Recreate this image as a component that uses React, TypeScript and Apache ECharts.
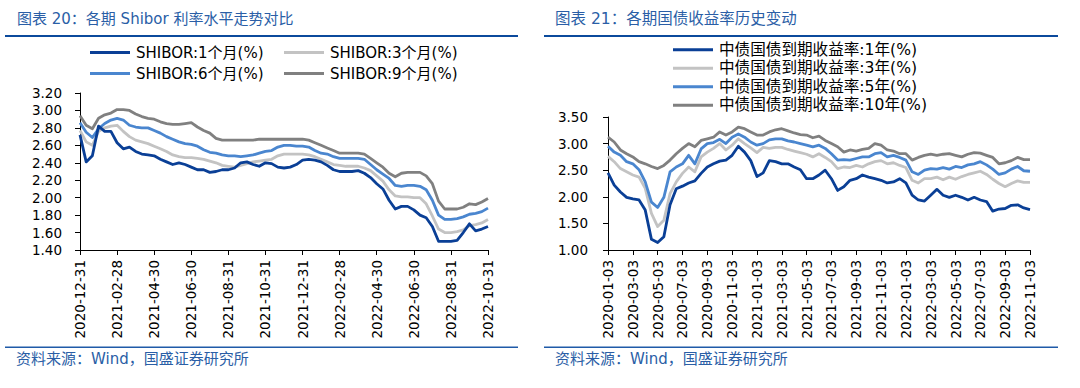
import React, { useEffect, useRef } from "react";
import * as echarts from "echarts";

// ---------- data ----------
const leftTicks = [
  "2020-12-31", "2021-02-28", "2021-04-30", "2021-06-30", "2021-08-31", "2021-10-31",
  "2021-12-31", "2022-02-28", "2022-04-30", "2022-06-30", "2022-08-31", "2022-10-31",
];
const LEFT_STEP = 6; // points between two labelled ticks

const shibor1M = [
  2.72, 2.41, 2.48, 2.82, 2.76, 2.76, 2.63, 2.56, 2.58, 2.53, 2.50, 2.49, 2.48, 2.44, 2.41, 2.38, 2.40,
  2.38, 2.35, 2.32, 2.32, 2.29, 2.30, 2.32, 2.32, 2.34, 2.40, 2.41, 2.38, 2.36, 2.40, 2.39, 2.35, 2.34,
  2.35, 2.38, 2.43, 2.44, 2.43, 2.41, 2.37, 2.32, 2.30, 2.30, 2.30, 2.31, 2.28, 2.23, 2.16, 2.10, 1.97,
  1.87, 1.90, 1.90, 1.86, 1.80, 1.77, 1.67, 1.50, 1.50, 1.50, 1.51, 1.60, 1.70, 1.62, 1.64, 1.67,
];
const shibor3M = [
  2.77, 2.64, 2.60, 2.76, 2.80, 2.82, 2.83, 2.76, 2.70, 2.66, 2.64, 2.62, 2.59, 2.56, 2.53, 2.49, 2.47,
  2.46, 2.46, 2.45, 2.44, 2.42, 2.40, 2.37, 2.36, 2.35, 2.37, 2.39, 2.41, 2.42, 2.43, 2.44, 2.48, 2.50,
  2.50, 2.50, 2.50, 2.49, 2.47, 2.44, 2.41, 2.38, 2.37, 2.36, 2.36, 2.36, 2.34, 2.31, 2.25, 2.19, 2.09,
  2.02, 2.01, 2.01, 2.00, 2.00, 1.93, 1.79, 1.64, 1.60, 1.60, 1.61, 1.63, 1.68, 1.69, 1.71, 1.75,
];
const shibor6M = [
  2.86, 2.75, 2.69, 2.79, 2.85, 2.89, 2.91, 2.89, 2.83, 2.81, 2.80, 2.80, 2.77, 2.74, 2.70, 2.67, 2.64,
  2.62, 2.61, 2.59, 2.55, 2.52, 2.51, 2.49, 2.48, 2.48, 2.47, 2.48, 2.49, 2.51, 2.53, 2.54, 2.58, 2.60,
  2.60, 2.59, 2.59, 2.58, 2.54, 2.51, 2.50, 2.47, 2.45, 2.45, 2.45, 2.45, 2.44, 2.38, 2.32, 2.27, 2.22,
  2.14, 2.13, 2.14, 2.14, 2.13, 2.09, 1.97, 1.80, 1.75, 1.75, 1.76, 1.78, 1.81, 1.82, 1.84, 1.88,
];
const shibor9M = [
  2.94, 2.83, 2.79, 2.91, 2.95, 2.97, 3.01, 3.01, 3.00, 2.96, 2.93, 2.91, 2.90, 2.87, 2.85, 2.84, 2.84,
  2.85, 2.86, 2.81, 2.77, 2.74, 2.68, 2.66, 2.66, 2.66, 2.66, 2.66, 2.66, 2.67, 2.67, 2.67, 2.67, 2.67,
  2.67, 2.67, 2.67, 2.66, 2.63, 2.60, 2.57, 2.54, 2.51, 2.51, 2.51, 2.51, 2.50, 2.45, 2.40, 2.35, 2.28,
  2.24, 2.28, 2.29, 2.29, 2.29, 2.25, 2.16, 1.96, 1.87, 1.87, 1.87, 1.89, 1.93, 1.92, 1.95, 1.99,
];

const rightTicks = [
  "2020-01-03", "2020-03-03", "2020-05-03", "2020-07-03", "2020-09-03", "2020-11-03",
  "2021-01-03", "2021-03-03", "2021-05-03", "2021-07-03", "2021-09-03", "2021-11-03",
  "2022-01-03", "2022-03-03", "2022-05-03", "2022-07-03", "2022-09-03", "2022-11-03",
];
const RIGHT_STEP = 4;

const bond1Y = [
  2.45, 2.22, 2.09, 1.99, 1.96, 1.94, 1.75, 1.20, 1.14, 1.25, 1.85, 2.15, 2.20, 2.26, 2.30, 2.44, 2.56,
  2.62, 2.67, 2.69, 2.78, 2.95, 2.84, 2.68, 2.38, 2.45, 2.68, 2.66, 2.62, 2.62, 2.56, 2.51, 2.34, 2.34,
  2.41, 2.50, 2.34, 2.12, 2.19, 2.31, 2.34, 2.41, 2.37, 2.34, 2.31, 2.26, 2.28, 2.34, 2.26, 2.03, 1.94,
  1.92, 2.03, 2.14, 2.03, 1.99, 2.03, 1.99, 1.94, 1.99, 1.94, 1.91, 1.73, 1.77, 1.78, 1.84, 1.85, 1.79, 1.76,
];
const bond3Y = [
  2.76, 2.66, 2.53, 2.47, 2.41, 2.37, 2.16, 1.69, 1.44, 1.56, 2.06, 2.28, 2.44, 2.56, 2.47, 2.75, 2.84,
  2.91, 3.00, 2.88, 2.97, 3.09, 3.00, 2.92, 2.83, 2.93, 2.91, 2.93, 2.93, 2.89, 2.86, 2.83, 2.80, 2.75,
  2.81, 2.74, 2.66, 2.53, 2.56, 2.55, 2.59, 2.56, 2.62, 2.66, 2.68, 2.62, 2.64, 2.59, 2.55, 2.31, 2.26,
  2.34, 2.34, 2.37, 2.32, 2.37, 2.33, 2.38, 2.42, 2.45, 2.48, 2.42, 2.33, 2.25, 2.19, 2.25, 2.30, 2.27, 2.27,
];
const bond5Y = [
  2.95, 2.84, 2.78, 2.66, 2.62, 2.51, 2.28, 1.90, 1.80, 1.99, 2.47, 2.56, 2.62, 2.78, 2.62, 2.90, 3.00,
  3.02, 3.08, 3.00, 3.12, 3.18, 3.12, 3.03, 2.97, 3.00, 3.07, 3.09, 3.09, 3.05, 3.03, 3.00, 2.97, 2.94,
  2.97, 2.91, 2.81, 2.69, 2.70, 2.69, 2.72, 2.75, 2.75, 2.81, 2.83, 2.75, 2.78, 2.74, 2.69, 2.47, 2.42,
  2.50, 2.53, 2.52, 2.55, 2.52, 2.57, 2.55, 2.60, 2.62, 2.66, 2.60, 2.52, 2.42, 2.45, 2.52, 2.57, 2.49, 2.48,
];
const bond10Y = [
  3.12, 3.03, 2.88, 2.81, 2.75, 2.66, 2.62, 2.57, 2.53, 2.59, 2.69, 2.81, 2.91, 3.00, 2.94, 3.06, 3.09,
  3.12, 3.22, 3.16, 3.22, 3.31, 3.28, 3.22, 3.16, 3.16, 3.22, 3.26, 3.28, 3.24, 3.20, 3.17, 3.16, 3.11,
  3.14, 3.06, 3.00, 2.94, 2.84, 2.88, 2.86, 2.89, 2.91, 3.00, 2.97, 2.88, 2.86, 2.81, 2.81, 2.69, 2.74,
  2.78, 2.80, 2.78, 2.80, 2.81, 2.78, 2.75, 2.80, 2.83, 2.82, 2.78, 2.74, 2.62, 2.64, 2.68, 2.74, 2.70, 2.70,
];

const leftNames = ["SHIBOR:1个月(%)", "SHIBOR:3个月(%)", "SHIBOR:6个月(%)", "SHIBOR:9个月(%)"];
const rightNames = ["中债国债到期收益率:1年(%)", "中债国债到期收益率:3年(%)", "中债国债到期收益率:5年(%)", "中债国债到期收益率:10年(%)"];

const COLORS = ["#0a3f96", "#c3c3c3", "#4a86cf", "#808080"];
const FONT = "'DejaVu Sans', 'Noto Sans CJK SC', sans-serif";
const TITLE_BLUE = "#2a5ea6";
const RULE_BLUE = "#0b4a9c";

function cats(n: number) {
  return Array.from({ length: n }, (_, i) => String(i));
}

export default function App() {
  const ref = useRef<HTMLDivElement>(null);
  useEffect(() => {
    if (!ref.current) return;
    const chart = echarts.init(ref.current, null, { renderer: "svg" });

    const xAxisBase = (ticks: string[], step: number, gridIndex: number, n: number) => ({
      type: "category",
      gridIndex,
      data: cats(n),
      boundaryGap: false,
      axisLine: { lineStyle: { color: "#000", width: 1 } },
      axisTick: { length: 5, interval: (i: number) => i % step === 0, lineStyle: { color: "#000" } },
      axisLabel: {
        interval: (i: number) => i % step === 0,
        formatter: (_v: string, i: number) => (i % step === 0 ? ticks[i / step] : ""),
        rotate: 90,
        margin: 10,
        color: "#000",
        fontSize: 13.5,
        fontFamily: FONT,
      },
      splitLine: { show: false },
    });

    const yAxisBase = (gridIndex: number, min: number, max: number, interval: number, margin: number) => ({
      type: "value",
      gridIndex,
      min,
      max,
      interval,
      axisLine: { show: true, lineStyle: { color: "#000", width: 1 } },
      axisTick: { show: true, length: 5, lineStyle: { color: "#000" } },
      axisLabel: {
        formatter: (v: number) => v.toFixed(2),
        color: "#000",
        fontSize: 13.5,
        fontFamily: FONT,
        margin,
      },
      splitLine: { show: false },
    });

    const legendItem = (name: string, left: number, top: number, fontSize: number) => ({
      data: [name],
      left,
      top,
      icon: "rect",
      itemWidth: 40,
      itemHeight: 3,
      itemGap: 0,
      padding: 0,
      textStyle: { fontSize, fontFamily: FONT, color: "#000", padding: [0, 0, 0, 1] },
      selectedMode: false,
    });

    const lineSeries = (name: string, data: number[], color: string, idx: number, z: number) => ({
      name,
      type: "line",
      xAxisIndex: idx,
      yAxisIndex: idx,
      data,
      symbol: "none",
      z,
      lineStyle: { color, width: 2.8, join: "round" },
      itemStyle: { color },
    });

    const leftSeriesData = [shibor1M, shibor3M, shibor6M, shibor9M];
    const rightSeriesData = [bond1Y, bond3Y, bond5Y, bond10Y];
    const zs = [6, 3, 4, 2];

    const option: any = {
      animation: false,
      backgroundColor: "#fff",
      textStyle: { fontFamily: FONT },
      grid: [
        { left: 80, top: 93, width: 408, height: 157 },
        { left: 608, top: 117, width: 422, height: 133 },
      ],
      xAxis: [
        xAxisBase(leftTicks, LEFT_STEP, 0, shibor1M.length),
        xAxisBase(rightTicks, RIGHT_STEP, 1, bond1Y.length),
      ],
      yAxis: [yAxisBase(0, 1.4, 3.2, 0.2, 18), yAxisBase(1, 1.0, 3.5, 0.5, 20)],
      legend: [
        legendItem(leftNames[0], 90, 45, 15),
        legendItem(leftNames[1], 284, 45, 15),
        legendItem(leftNames[2], 90, 66, 15),
        legendItem(leftNames[3], 284, 66, 15),
        legendItem(rightNames[0], 673, 42, 15.6),
        legendItem(rightNames[1], 673, 60.5, 15.6),
        legendItem(rightNames[2], 673, 79, 15.6),
        legendItem(rightNames[3], 673, 97.5, 15.6),
      ],
      series: [
        ...leftSeriesData.map((d, i) => lineSeries(leftNames[i], d, COLORS[i], 0, zs[i])),
        ...rightSeriesData.map((d, i) => lineSeries(rightNames[i], d, COLORS[i], 1, zs[i])),
      ],
      graphic: [
        { type: "text", x: 17, y: 19, style: { text: "图表 20：各期 Shibor 利率水平走势对比", fill: TITLE_BLUE, fontSize: 15, fontFamily: FONT, verticalAlign: "middle" } },
        { type: "text", x: 555, y: 19, style: { text: "图表 21：各期国债收益率历史变动", fill: TITLE_BLUE, fontSize: 15.5, fontFamily: FONT, verticalAlign: "middle" } },
        { type: "rect", shape: { x: 5, y: 35, width: 513, height: 2 }, style: { fill: RULE_BLUE } },
        { type: "rect", shape: { x: 544, y: 35, width: 514, height: 2 }, style: { fill: RULE_BLUE } },
        { type: "rect", shape: { x: 5, y: 346.5, width: 513, height: 1.5 }, style: { fill: "#1f5aa8" } },
        { type: "rect", shape: { x: 544, y: 346.5, width: 514, height: 1.5 }, style: { fill: "#1f5aa8" } },
        { type: "text", x: 16, y: 359, style: { text: "资料来源：Wind，国盛证券研究所", fill: TITLE_BLUE, fontSize: 15, fontFamily: FONT, verticalAlign: "middle" } },
        { type: "text", x: 555, y: 359, style: { text: "资料来源：Wind，国盛证券研究所", fill: TITLE_BLUE, fontSize: 15, fontFamily: FONT, verticalAlign: "middle" } },
      ],
    };
    chart.setOption(option);
    return () => chart.dispose();
  }, []);
  return (
    <div
      ref={ref}
      style={{ position: "absolute", left: 0, top: 0, width: 1080, height: 388, background: "#fff" }}
    />
  );
}
